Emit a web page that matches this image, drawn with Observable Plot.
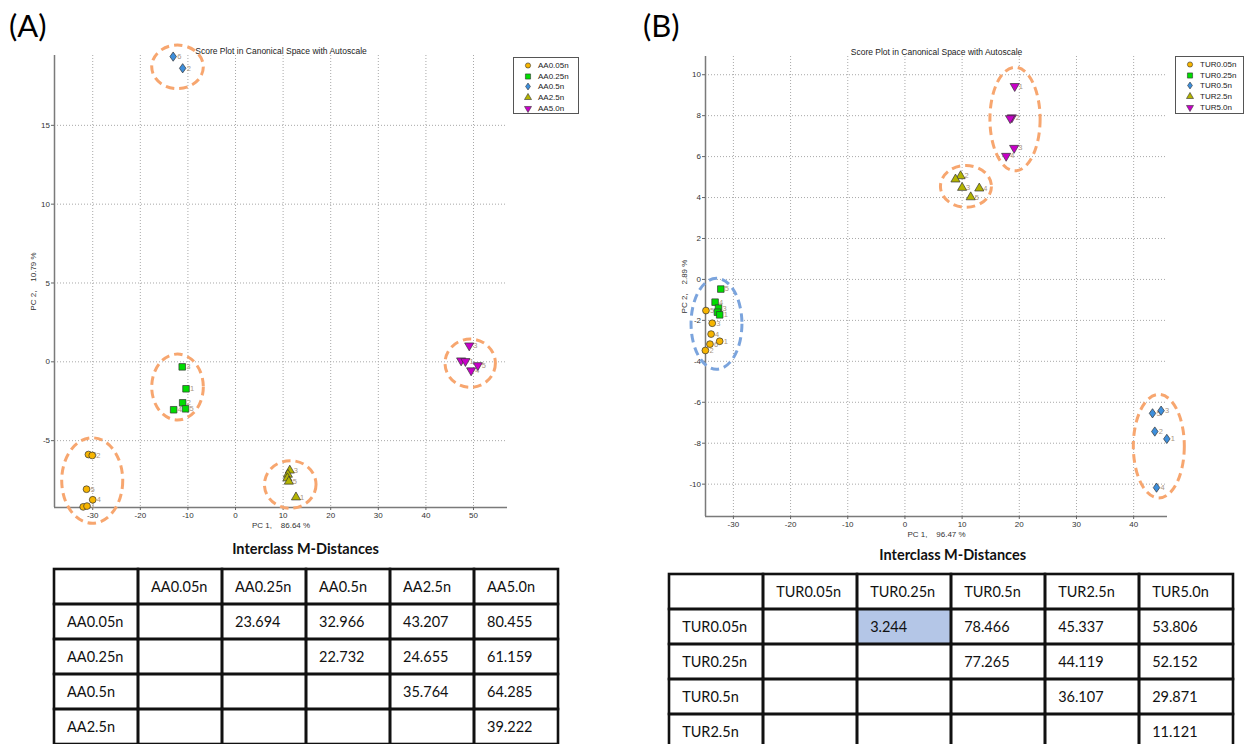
<!DOCTYPE html>
<html>
<head>
<meta charset="utf-8">
<script src="https://cdn.jsdelivr.net/npm/d3@7"></script>
<script src="https://cdn.jsdelivr.net/npm/@observablehq/plot@0.6"></script>
<style>
  body { margin: 0; background: #fff; }
  #root { position: relative; width: 1245px; height: 744px; overflow: hidden; background: #fff; }
  .abs { position: absolute; }
  .panel { position: absolute; font-family: Lato, "Open Sans", sans-serif; font-size: 31px; line-height: 1; color: #000; }
  .ttl { position: absolute; font-family: Lato, "Open Sans", sans-serif; font-weight: bold; font-size: 14.5px; line-height: 18px; text-align: center; width: 300px; color: #111; }
  .legend { position: absolute; border: 1px solid #555; background: #fff; box-sizing: border-box; padding-top: 2px;
            font-family: "Liberation Sans", Arial, sans-serif; font-size: 8px; color: #222; }
  .legend .row { height: 10.8px; display: flex; align-items: center; }
  .legend svg { margin-left: 10px; margin-right: 6px; }
</style>
</head>
<body>
<div id="root"></div>
<script>
// ---------------- DATA ----------------
const classesA = ["AA0.05n", "AA0.25n", "AA0.5n", "AA2.5n", "AA5.0n"];
const classesB = ["TUR0.05n", "TUR0.25n", "TUR0.5n", "TUR2.5n", "TUR5.0n"];

// [PC1, PC2, replicate label] (labels hidden under another marker are left blank)
const AA0_05n = [[-30.9, -5.88, "6"], [-30.1, -5.94, "2"], [-31.3, -8.08, "5"], [-30.0, -8.75, "4"], [-32.0, -9.2, ""], [-31.2, -9.15, "1"]];
const AA0_25n = [[-11.2, -0.32, "3"], [-10.4, -1.71, "1"], [-11.1, -2.60, "2"], [-10.5, -2.98, "5"], [-13.0, -3.04, "4"]];
const AA0_5n  = [[-13.1, 19.36, "6"], [-11.1, 18.62, "2"]];
const AA2_5n  = [[11.4, -6.89, "3"], [11.0, -7.15, ""], [10.9, -7.38, ""], [11.2, -7.59, "5"], [12.7, -8.59, "1"]];
const AA5_0n  = [[49.1, 1.03, "3"], [47.4, 0.08, ""], [48.3, 0.04, "1"], [50.9, -0.22, "5"], [49.5, -0.55, "4"]];

const TUR0_05n = [[-34.8, -1.52, "5"], [-33.7, -2.14, "3"], [-33.9, -2.67, "4"], [-32.4, -3.02, "1"], [-34.1, -3.16, "6"], [-34.9, -3.47, "2"]];
const TUR0_25n = [[-32.2, -0.47, "5"], [-33.2, -1.11, "4"], [-32.6, -1.40, "3"], [-32.8, -1.60, ""], [-32.4, -1.73, "1"]];
const TUR0_5n  = [[43.3, -6.54, "5"], [44.8, -6.41, "3"], [43.7, -7.43, "2"], [45.8, -7.79, "1"], [44.0, -10.17, "4"]];
const TUR2_5n  = [[9.73, 5.05, "2"], [8.84, 4.89, ""], [10.0, 4.48, "3"], [13.0, 4.45, "4"], [11.5, 4.02, "5"]];
const TUR5_0n  = [[19.2, 9.44, "1"], [18.7, 7.91, "2"], [18.4, 7.87, ""], [19.1, 6.42, "3"], [17.7, 6.03, "4"]];

// cluster ellipses [centre PC1, centre PC2, radius PC1, radius PC2, kind]
const ellipsesA = [[-12.08, 18.68, 5.42, 1.38, "o"], [-12.08, -1.63, 5.42, 2.09, "o"], [-30.0, -7.56, 6.41, 2.71, "o"], [11.6, -7.81, 5.42, 1.51, "o"], [49.41, -0.12, 5.29, 1.53, "o"]];
const ellipsesB = [[19.34, 7.81, 4.39, 2.53, "o"], [10.76, 4.52, 4.46, 1.02, "o"], [-32.87, -2.19, 4.45, 2.22, "b"], [44.49, -8.17, 4.46, 2.53, "o"]];

const xTicksA = [-30, -20, -10, 0, 10, 20, 30, 40, 50];
const yTicksA = [-5, 0, 5, 10, 15];
const xTicksB = [-30, -20, -10, 0, 10, 20, 30, 40];
const yTicksB = [-10, -8, -6, -4, -2, 0, 2, 4, 6, 8, 10];
const xDomainA = [-38.03, 57.14], yDomainA = [-9.24, 19.43];
const xDomainB = [-34.88, 45.92], yDomainB = [-11.58, 10.89];

const varA = ["86.64", "10.79"];
const varB = ["96.47", "2.89"];

// Interclass M-distances (row class -> column class)
const distA = [
  [null, 23.694, 32.966, 43.207, 80.455],
  [null, null, 22.732, 24.655, 61.159],
  [null, null, null, 35.764, 64.285],
  [null, null, null, null, 39.222]
];
const distB = [
  [null, 3.244, 78.466, 45.337, 53.806],
  [null, null, 77.265, 44.119, 52.152],
  [null, null, null, 36.107, 29.871],
  [null, null, null, null, 11.121]
];
const highlightB = [[0, 1]];

// ---------------- STYLE ----------------
const fills = ["#f7b500", "#00dd00", "#3d8fdc", "#b4b400", "#c800c8"];
const triDown = {
  draw(ctx, size) {
    const s3 = Math.sqrt(3);
    const y = -Math.sqrt(size / (s3 * 3));
    ctx.moveTo(0, -y * 2);
    ctx.lineTo(-s3 * y, y);
    ctx.lineTo(s3 * y, y);
    ctx.closePath();
  }
};
const rhombus = {
  draw(ctx, size) {
    const h = Math.sqrt(size / 1.4); // half height; half width = 0.7 h
    ctx.moveTo(0, -h);
    ctx.lineTo(0.7 * h, 0);
    ctx.lineTo(0, h);
    ctx.lineTo(-0.7 * h, 0);
    ctx.closePath();
  }
};
const symbols = ["circle", "square", rhombus, "triangle", triDown];
const sizes = [3.4, 3.7, 3.1, 3.4, 3.4];
const ellColors = {o: "#f7a66f", b: "#7ba4dd"};
const font = "'Liberation Sans', Arial, sans-serif";

const root = document.getElementById("root");

function place(node, left, top, width) {
  const d = document.createElement("div");
  d.className = "abs";
  d.style.left = left + "px";
  d.style.top = top + "px";
  if (width) d.style.width = width + "px";
  d.appendChild(node);
  root.appendChild(d);
  return d;
}
function html(cls, text, left, top) {
  const d = document.createElement("div");
  d.className = cls;
  d.textContent = text;
  d.style.left = left + "px";
  d.style.top = top + "px";
  root.appendChild(d);
  return d;
}

function ellipseMark(list) {
  return (index, scales) => {
    const g = d3.create("svg:g");
    for (const [cx, cy, rx, ry, k] of list) {
      const px = scales.x(cx), py = scales.y(cy);
      g.append("ellipse")
        .attr("cx", px).attr("cy", py)
        .attr("rx", Math.abs(scales.x(cx + rx) - px))
        .attr("ry", Math.abs(scales.y(cy + ry) - py))
        .attr("fill", "none").attr("stroke", ellColors[k])
        .attr("stroke-width", 3).attr("stroke-dasharray", "8.5,5");
    }
    return g.node();
  };
}

function scatter(cfg) {
  const marks = [
    Plot.gridX(cfg.xTicks, {stroke: "#a8a8a8", strokeOpacity: 1, strokeDasharray: "1,2"}),
    Plot.gridY(cfg.yTicks, {stroke: "#a8a8a8", strokeOpacity: 1, strokeDasharray: "1,2"}),
    Plot.ruleX([cfg.xDomain[0]], {stroke: "#7a7a7a", strokeWidth: 1.5}),
    Plot.ruleY([cfg.yDomain[0]], {stroke: "#7a7a7a", strokeWidth: 1.5}),
    Plot.axisX(cfg.xTicks, {anchor: "bottom", tickSize: 3, tickPadding: 1.5, tickFormat: d => String(d), stroke: "#666",
      label: `PC 1,\u00a0\u00a0\u00a0\u00a0${cfg.vars[0]} %`, labelAnchor: "center", labelArrow: "none", labelOffset: 20}),
    Plot.axisY(cfg.yTicks, {anchor: "left", tickSize: 3, tickPadding: 1.5, tickFormat: d => String(d), stroke: "#666",
      label: `PC 2,\u00a0\u00a0\u00a0\u00a0${cfg.vars[1]} %`, labelAnchor: "center", labelArrow: "none", labelOffset: 24}),
    Plot.text(["Score Plot in Canonical Space with Autoscale"], {frameAnchor: "top", dy: -8, fontSize: 8.5, fill: "#222"}),
    ellipseMark(cfg.ellipses)
  ];
  cfg.series.forEach((s, i) => {
    marks.push(Plot.text(s.filter(d => d[2] !== ""), {x: d => d[0], y: d => d[1], text: d => d[2], dx: 4, textAnchor: "start", fontSize: 7.5, fill: "#a8957f"}));
  });
  cfg.series.forEach((s, i) => {
    marks.push(Plot.dot(s, {x: d => d[0], y: d => d[1], symbol: symbols[i], r: sizes[i], fill: fills[i], stroke: "#333", strokeWidth: 0.7}));
  });
  return Plot.plot({
    width: cfg.width, height: cfg.height,
    marginLeft: cfg.m[0], marginRight: cfg.m[1], marginTop: cfg.m[2], marginBottom: cfg.m[3],
    x: {domain: cfg.xDomain},
    y: {domain: cfg.yDomain},
    style: {background: "transparent", overflow: "visible", fontFamily: font, fontSize: "8px", color: "#333"},
    marks
  });
}

function legend(classes, left, top, width, height) {
  const d = document.createElement("div");
  d.className = "legend";
  Object.assign(d.style, {left: left + "px", top: top + "px", width: width + "px", height: height + "px"});
  classes.forEach((c, i) => {
    const row = document.createElement("div");
    row.className = "row";
    const svg = d3.create("svg").attr("width", 8).attr("height", 9);
    const sym = typeof symbols[i] === "string" ? {circle: d3.symbolCircle, square: d3.symbolSquare, triangle: d3.symbolTriangle}[symbols[i]] : symbols[i];
    svg.append("path").attr("transform", "translate(4,4.5)")
      .attr("d", d3.symbol(sym, Math.PI * (sizes[i] - 0.8) ** 2)())
      .attr("fill", fills[i]).attr("stroke", "#333").attr("stroke-width", 0.6);
    row.appendChild(svg.node());
    const t = document.createElement("span");
    t.textContent = c;
    row.appendChild(t);
    d.appendChild(row);
  });
  root.appendChild(d);
}

function table(classes, dist, hl, cfg) {
  const cells = [];
  for (let r = 0; r <= dist.length; r++) {
    for (let c = 0; c <= classes.length; c++) {
      let t = "";
      if (r === 0 && c > 0) t = classes[c - 1];
      else if (c === 0 && r > 0) t = classes[r - 1];
      else if (r > 0 && c > 0 && dist[r - 1][c - 1] != null) t = dist[r - 1][c - 1].toFixed(3);
      const h = r > 0 && c > 0 && hl.some(([a, b]) => a === r - 1 && b === c - 1);
      cells.push({r, c, t, h});
    }
  }
  const bw = (cfg.width - cfg.m[0] - cfg.m[1]) / (classes.length + 1);
  return Plot.plot({
    width: cfg.width, height: cfg.height,
    marginLeft: cfg.m[0], marginRight: cfg.m[1], marginTop: cfg.m[2], marginBottom: cfg.m[3],
    x: {type: "band", domain: d3.range(classes.length + 1), padding: 0, axis: null},
    y: {type: "band", domain: d3.range(dist.length + 1), padding: 0, axis: null},
    style: {background: "transparent", overflow: "visible", fontFamily: "Lato, 'Open Sans', sans-serif", fontSize: "14.5px", color: "#111"},
    marks: [
      Plot.cell(cells, {x: "c", y: "r", fill: "white"}),
      Plot.cell(cells.filter(d => d.h), {x: "c", y: "r", fill: "#b4c6e7"}),
      Plot.cell(cells, {x: "c", y: "r", fill: "none", stroke: "#111", strokeWidth: 2.6}),
      Plot.text(cells, {x: "c", y: "r", text: "t", textAnchor: "start", dx: -bw / 2 + 13, fontSize: 14.5, fill: "#111"})
    ]
  });
}

// ---------------- LAYOUT ----------------
html("panel", "(A)", 9, 10);
html("panel", "(B)", 643, 10);

place(scatter({
  series: [AA0_05n, AA0_25n, AA0_5n, AA2_5n, AA5_0n], ellipses: ellipsesA,
  xTicks: xTicksA, yTicks: yTicksA, xDomain: xDomainA, yDomain: yDomainA, vars: varA,
  width: 620, height: 535, m: [54, 113, 55, 28]
}), 0, 0, 620);
legend(classesA, 513, 57, 66, 57);

place(scatter({
  series: [TUR0_05n, TUR0_25n, TUR0_5n, TUR2_5n, TUR5_0n], ellipses: ellipsesB,
  xTicks: xTicksB, yTicks: yTicksB, xDomain: xDomainB, yDomain: yDomainB, vars: varB,
  width: 625, height: 545, m: [85, 78, 56, 29]
}), 620, 0, 625);
legend(classesB, 1175, 56, 69, 58);

html("ttl", "Interclass M-Distances", 305.5 - 150, 540);
html("ttl", "Interclass M-Distances", 952.7 - 150, 546);

place(table(classesA, distA, [], {width: 620, height: 200, m: [50.6, 59.5, 6.7, 14.3]}), 0, 560, 620);
place(table(classesB, distB, highlightB, {width: 625, height: 200, m: [47, 9.5, 11.7, 9.3]}), 620, 560, 625);
</script>
</body>
</html>
